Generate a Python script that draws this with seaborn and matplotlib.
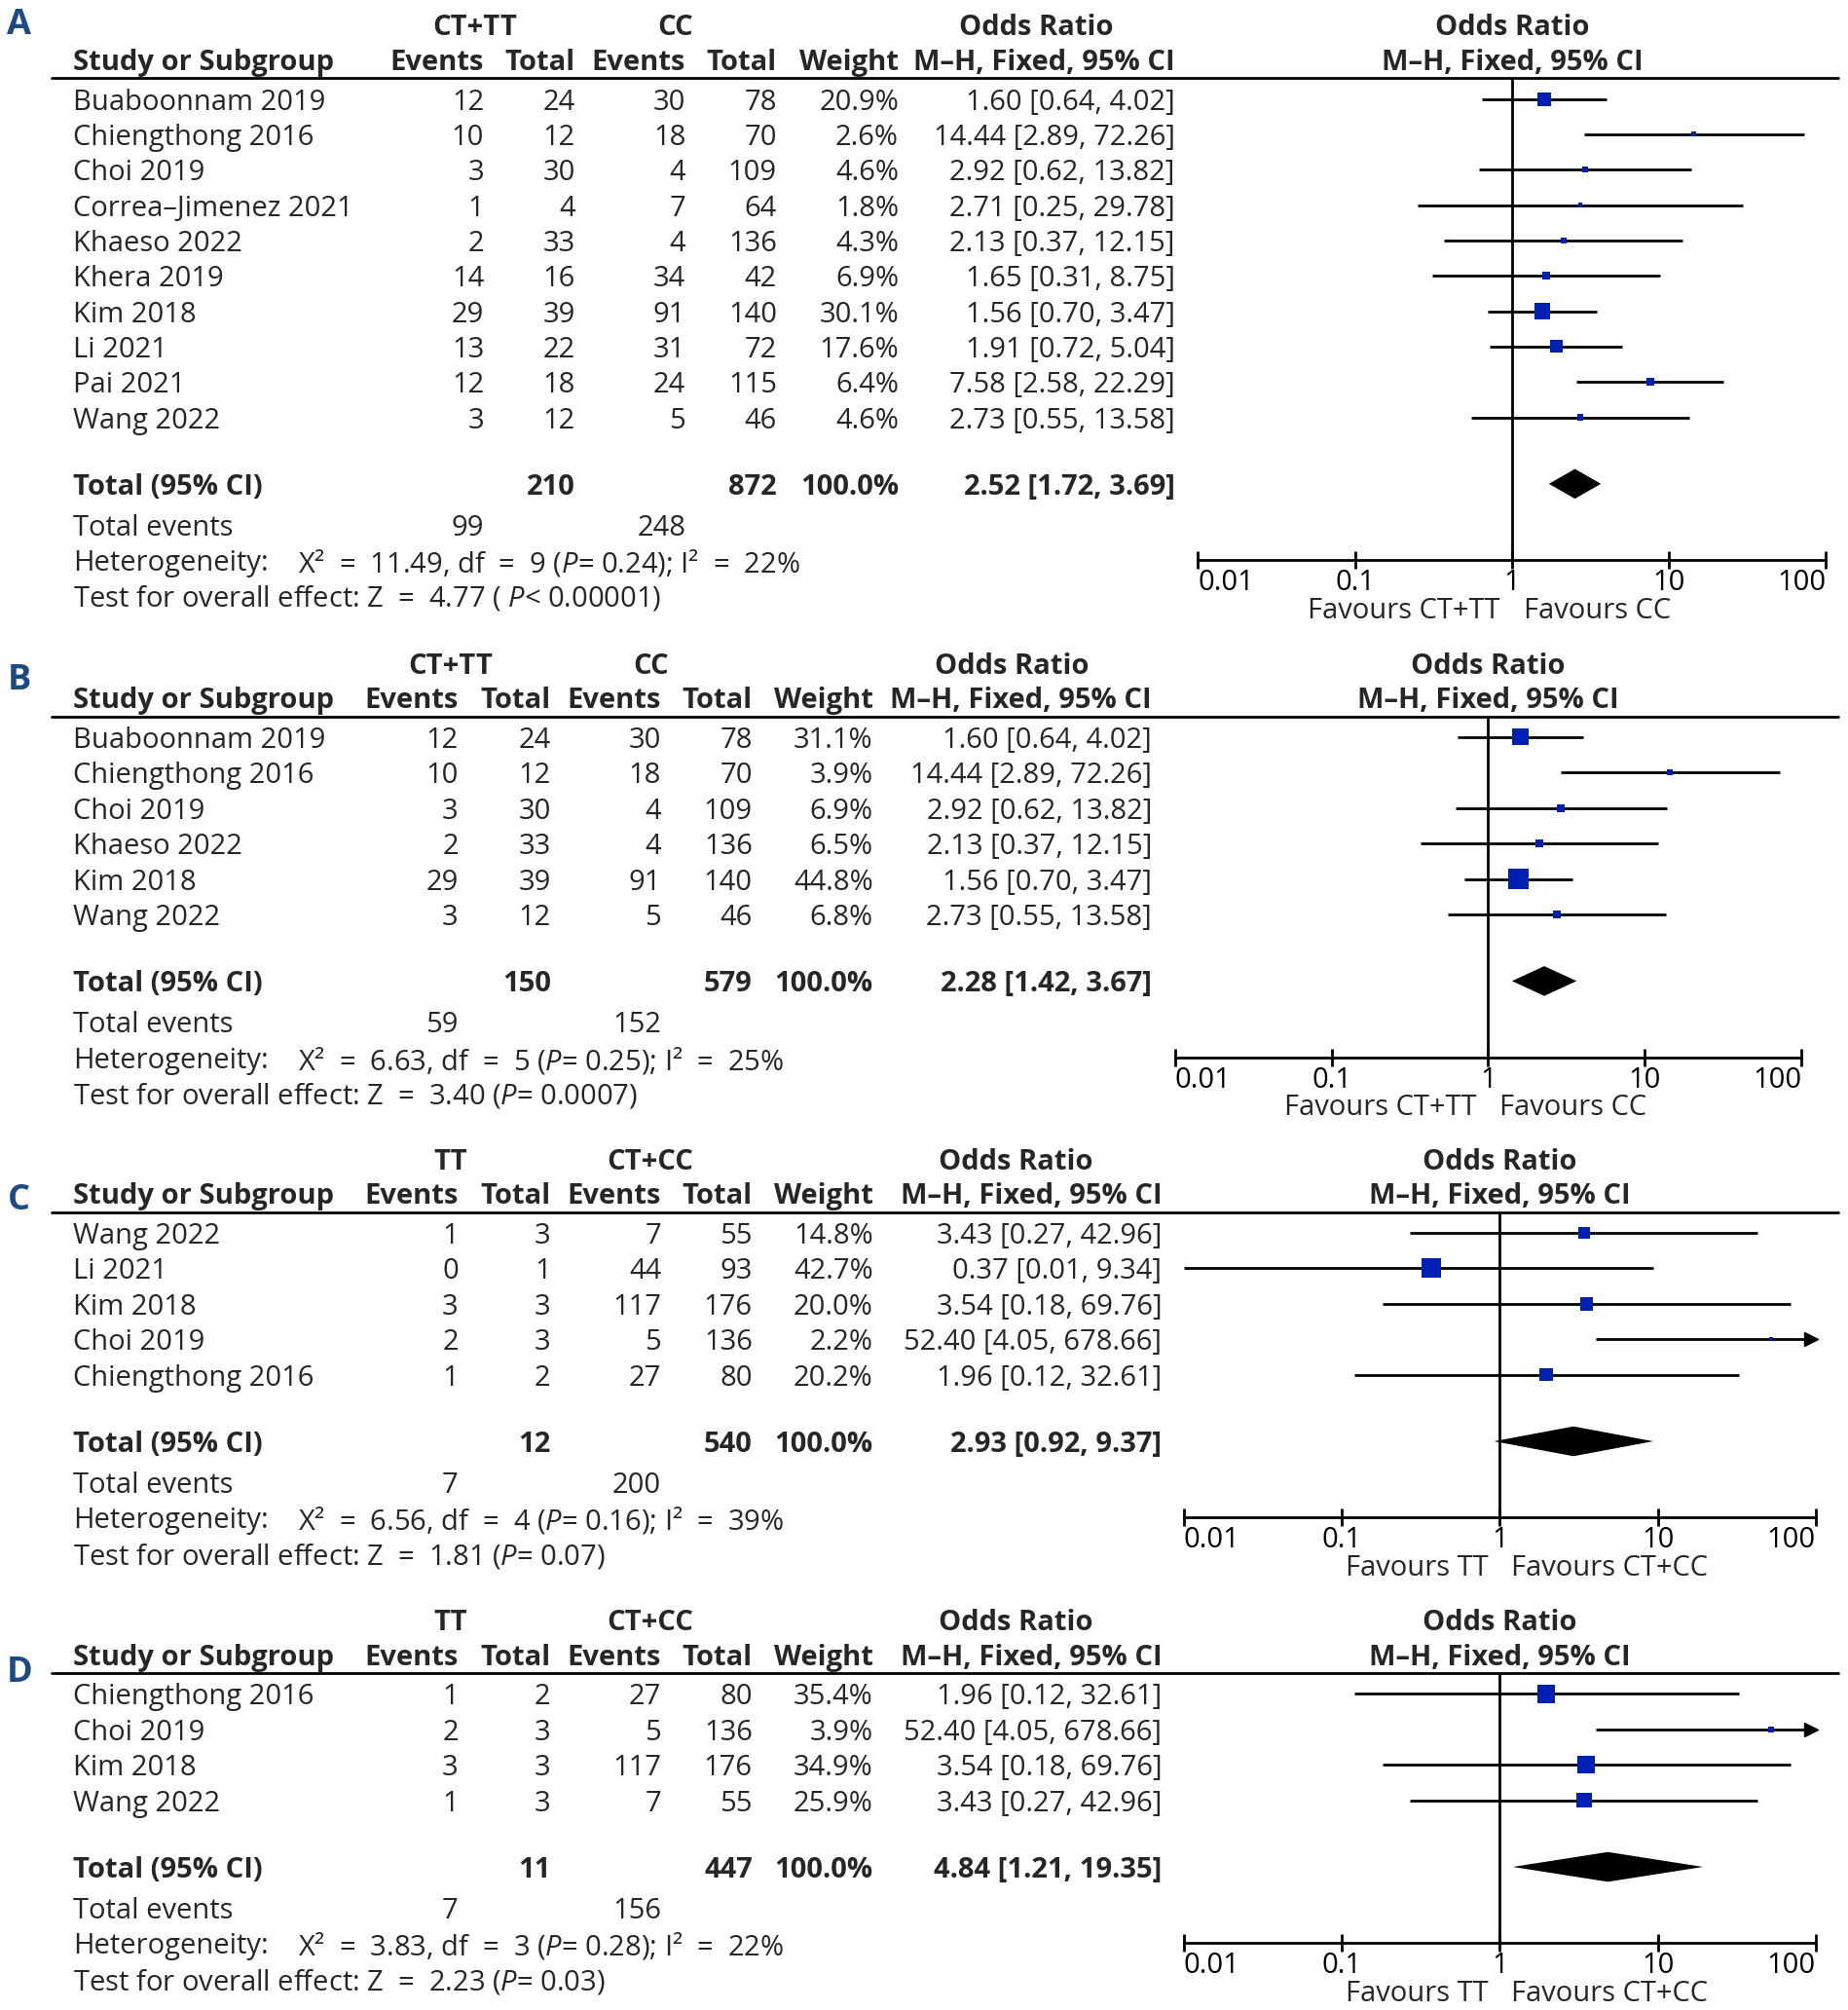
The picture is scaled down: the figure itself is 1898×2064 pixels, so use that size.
import numpy as np
import matplotlib
matplotlib.use("Agg")
import matplotlib.pyplot as plt
import matplotlib.transforms as mtrans
from matplotlib.ticker import NullLocator
import seaborn as sns

# ---- data -------------------------------------------------------------
A_STUDIES = ["Buaboonnam 2019", "Chiengthong 2016", "Choi 2019", "Correa–Jimenez 2021",
             "Khaeso 2022", "Khera 2019", "Kim 2018", "Li 2021", "Pai 2021", "Wang 2022"]
A_EV1 = [12, 10, 3, 1, 2, 14, 29, 13, 12, 3]
A_TOT1 = [24, 12, 30, 4, 33, 16, 39, 22, 18, 12]
A_EV2 = [30, 18, 4, 7, 4, 34, 91, 31, 24, 5]
A_TOT2 = [78, 70, 109, 64, 136, 42, 140, 72, 115, 46]
A_WEIGHT = [20.9, 2.6, 4.6, 1.8, 4.3, 6.9, 30.1, 17.6, 6.4, 4.6]
A_OR = [1.60, 14.44, 2.92, 2.71, 2.13, 1.65, 1.56, 1.91, 7.58, 2.73]
A_LO = [0.64, 2.89, 0.62, 0.25, 0.37, 0.31, 0.70, 0.72, 2.58, 0.55]
A_HI = [4.02, 72.26, 13.82, 29.78, 12.15, 8.75, 3.47, 5.04, 22.29, 13.58]
A_TOTAL = [210, 872, 2.52, 1.72, 3.69]
A_EVENTS = [99, 248]
A_HET = [11.49, 9, "0.24", 22]
A_TEST = [4.77, " ", "<", "0.00001"]

B_STUDIES = ["Buaboonnam 2019", "Chiengthong 2016", "Choi 2019", "Khaeso 2022", "Kim 2018", "Wang 2022"]
B_EV1 = [12, 10, 3, 2, 29, 3]
B_TOT1 = [24, 12, 30, 33, 39, 12]
B_EV2 = [30, 18, 4, 4, 91, 5]
B_TOT2 = [78, 70, 109, 136, 140, 46]
B_WEIGHT = [31.1, 3.9, 6.9, 6.5, 44.8, 6.8]
B_OR = [1.60, 14.44, 2.92, 2.13, 1.56, 2.73]
B_LO = [0.64, 2.89, 0.62, 0.37, 0.70, 0.55]
B_HI = [4.02, 72.26, 13.82, 12.15, 3.47, 13.58]
B_TOTAL = [150, 579, 2.28, 1.42, 3.67]
B_EVENTS = [59, 152]
B_HET = [6.63, 5, "0.25", 25]
B_TEST = [3.40, "", "=", "0.0007"]

C_STUDIES = ["Wang 2022", "Li 2021", "Kim 2018", "Choi 2019", "Chiengthong 2016"]
C_EV1 = [1, 0, 3, 2, 1]
C_TOT1 = [3, 1, 3, 3, 2]
C_EV2 = [7, 44, 117, 5, 27]
C_TOT2 = [55, 93, 176, 136, 80]
C_WEIGHT = [14.8, 42.7, 20.0, 2.2, 20.2]
C_OR = [3.43, 0.37, 3.54, 52.40, 1.96]
C_LO = [0.27, 0.01, 0.18, 4.05, 0.12]
C_HI = [42.96, 9.34, 69.76, 678.66, 32.61]
C_TOTAL = [12, 540, 2.93, 0.92, 9.37]
C_EVENTS = [7, 200]
C_HET = [6.56, 4, "0.16", 39]
C_TEST = [1.81, "", "=", "0.07"]

D_STUDIES = ["Chiengthong 2016", "Choi 2019", "Kim 2018", "Wang 2022"]
D_EV1 = [1, 2, 3, 1]
D_TOT1 = [2, 3, 3, 3]
D_EV2 = [27, 5, 117, 7]
D_TOT2 = [80, 136, 176, 55]
D_WEIGHT = [35.4, 3.9, 34.9, 25.9]
D_OR = [1.96, 52.40, 3.54, 3.43]
D_LO = [0.12, 4.05, 0.18, 0.27]
D_HI = [32.61, 678.66, 69.76, 42.96]
D_TOTAL = [11, 447, 4.84, 1.21, 19.35]
D_EVENTS = [7, 156]
D_HET = [3.83, 3, "0.28", 22]
D_TEST = [2.23, "", "=", "0.03"]

TICKS = [0.01, 0.1, 1, 10, 100]
TICK_LABELS = ["0.01", "0.1", "1", "10", "100"]

# ---- layout (pixel positions measured on a 1440 px wide copy) ----------
W_REF = 1440.0
H_REF = 2064 * 1440.0 / 1899
FS = 21
BLUE = "#0020b4"
LETTER_COLOR = "#1b4b82"

sns.set_theme(style="white")
plt.rcParams["font.family"] = ["Open Sans", "DejaVu Sans"]
plt.rcParams["mathtext.fontset"] = "custom"
plt.rcParams["mathtext.rm"] = "Open Sans"
plt.rcParams["mathtext.it"] = "Open Sans:italic"
plt.rcParams["mathtext.bf"] = "Open Sans:bold"
plt.rcParams["mathtext.fallback"] = "stixsans"

fig = plt.figure(figsize=(18.99, 20.64), dpi=100)


def fx(px):
    return px / W_REF


def fy(py):
    return 1 - py / H_REF


def wide(s):
    # the statistics lines of the reference set the "=" signs with extra room
    return s.replace(" = ", "  =  ")


def draw_panel(letter, lay, groups, fav, studies, ev1, tot1, ev2, tot2, weight,
               odds, lo, hi, total, events, het, test):
    row0, sp = lay["row0"], lay["sp"]
    n = len(studies)
    y_top = -0.58
    y_total = n - 1 + 1.88
    y_events = y_total + 1.15
    y_het = y_events + 1
    y_test = y_het + 1
    top_px = row0 + y_top * sp
    bot_px = row0 + y_het * sp

    ax = fig.add_axes([fx(lay["f_left"]), fy(bot_px),
                       fx(lay["f_right"]) - fx(lay["f_left"]), (bot_px - top_px) / H_REF])
    ax.set_xscale("log")
    ax.set_xlim(0.01, 100)
    ax.set_ylim(y_het, y_top)
    tr = mtrans.blended_transform_factory(fig.transFigure, ax.transData)

    # forest marks
    rows = np.arange(n)
    hi_clip = np.minimum(hi, 100)
    ax.hlines(rows, lo, hi_clip, color="black", lw=2.0, zorder=2)
    sns.scatterplot(x=odds, y=rows, size=weight, sizes=(0, 485), size_norm=(0, 100),
                    marker="s", color=BLUE, linewidth=0, legend=False, ax=ax, zorder=3)
    over = [r for r, h in zip(rows, hi) if h > 100]
    if over:
        arr_tr = mtrans.offset_copy(ax.transData, fig, x=-3.5, units="points")
        ax.plot([100] * len(over), over, marker=">", ms=10, color="black", ls="none",
                transform=arr_tr, clip_on=False, zorder=4)
    est, clo, chi = total[2], total[3], total[4]
    ax.fill([clo, est, chi, est], [y_total, y_total - 0.42, y_total, y_total + 0.42],
            color="black", lw=0, zorder=3)
    ax.axvline(1, color="black", lw=2.0, zorder=1)

    # axis
    for s in ["top", "left", "right"]:
        ax.spines[s].set_visible(False)
    ax.spines["bottom"].set_linewidth(2.0)
    ax.spines["bottom"].set_color("black")
    ax.set_xticks(TICKS)
    ax.set_xticklabels(TICK_LABELS)
    ax.xaxis.set_minor_locator(NullLocator())
    ax.set_yticks([])
    ax.tick_params(axis="x", direction="inout", length=13, width=2.0, labelsize=FS,
                   pad=0, bottom=True, colors="black")
    labs = ax.get_xticklabels()
    labs[0].set_horizontalalignment("left")
    labs[-1].set_horizontalalignment("right")
    mid = (lay["f_left"] + lay["f_right"]) / 2
    ax.text(fx(mid - 9), y_het + 1.34, "Favours " + fav[0], transform=tr, ha="right",
            va="center_baseline", fontsize=FS, clip_on=False)
    ax.text(fx(mid + 9), y_het + 1.34, "Favours " + fav[1], transform=tr, ha="left",
            va="center_baseline", fontsize=FS, clip_on=False)

    # header
    ax.plot([fx(40), fx(1432)], [y_top, y_top], transform=tr, color="black", lw=2.0,
            clip_on=False)
    c = lay["cols"]
    kw = dict(transform=tr, va="center_baseline", fontsize=FS, clip_on=False)
    bold = dict(kw, fontweight="bold")
    h1, h2 = -2.1, -1.12
    ax.text(fx(lay["g1"]), h1, groups[0], ha="center", **bold)
    ax.text(fx(lay["g2"]), h1, groups[1], ha="center", **bold)
    ax.text(fx(lay["orh"]), h1, "Odds Ratio", ha="center", **bold)
    ax.text(fx(mid), h1, "Odds Ratio", ha="center", **bold)
    ax.text(fx(57), h2, "Study or Subgroup", ha="left", **bold)
    for key, lab in zip(["ev1", "tot1", "ev2", "tot2", "w", "ci"],
                        ["Events", "Total", "Events", "Total", "Weight", "M–H, Fixed, 95% CI"]):
        ax.text(fx(c[key]), h2, lab, ha="right", **bold)
    ax.text(fx(mid), h2, "M–H, Fixed, 95% CI", ha="center", **bold)

    # study rows
    for i in range(n):
        ax.text(fx(57), i, studies[i], ha="left", **kw)
        vals = [str(ev1[i]), str(tot1[i]), str(ev2[i]), str(tot2[i]),
                f"{weight[i]:.1f}%", f"{odds[i]:.2f} [{lo[i]:.2f}, {hi[i]:.2f}]"]
        for key, v in zip(["ev1", "tot1", "ev2", "tot2", "w", "ci"], vals):
            ax.text(fx(c[key]), i, v, ha="right", **kw)

    # totals
    ax.text(fx(57), y_total, "Total (95% CI)", ha="left", **bold)
    ax.text(fx(c["tot1"]), y_total, str(total[0]), ha="right", **bold)
    ax.text(fx(c["tot2"]), y_total, str(total[1]), ha="right", **bold)
    ax.text(fx(c["w"]), y_total, "100.0%", ha="right", **bold)
    ax.text(fx(c["ci"]), y_total, f"{est:.2f} [{clo:.2f}, {chi:.2f}]", ha="right", **bold)
    ax.text(fx(57), y_events, "Total events", ha="left", **kw)
    ax.text(fx(c["ev1"]), y_events, str(events[0]), ha="right", **kw)
    ax.text(fx(c["ev2"]), y_events, str(events[1]), ha="right", **kw)
    ax.text(fx(57), y_het, "Heterogeneity:", ha="left", **kw)
    het_txt = wide(f"Χ² = {het[0]:.2f}, df = {het[1]} (") + r"$\mathit{P}$" + \
        f"= {het[2]}); " + wide(f"I² = {het[3]}%")
    ax.text(fx(232), y_het, het_txt, ha="left", **kw)
    test_txt = wide(f"Test for overall effect: Z = {test[0]:.2f} ({test[1]}") + \
        r"$\mathit{P}$" + f"{test[2]} {test[3]})"
    ax.text(fx(57), y_test, test_txt, ha="left", **kw)

    fig.text(fx(15), fy(lay["letter_y"]), letter, ha="center", va="center",
             fontsize=FS + 5, fontweight="bold", color=LETTER_COLOR)


COLS_A = dict(ev1=377, tot1=448, ev2=534, tot2=605, w=700, ci=915)
COLS_B = dict(ev1=357, tot1=429, ev2=515, tot2=586, w=680, ci=897)
COLS_C = dict(ev1=357, tot1=429, ev2=515, tot2=586, w=680, ci=905)

LAY_A = dict(row0=77, sp=27.55, cols=COLS_A, g1=370, g2=526, orh=807,
             f_left=933, f_right=1422, letter_y=20)
LAY_B = dict(row0=574, sp=27.6, cols=COLS_B, g1=351, g2=507, orh=788,
             f_left=915, f_right=1403, letter_y=530)
LAY_C = dict(row0=960, sp=27.6, cols=COLS_C, g1=351, g2=506, orh=791,
             f_left=922, f_right=1414, letter_y=935)
LAY_D = dict(row0=1319, sp=27.6, cols=COLS_C, g1=351, g2=506, orh=791,
             f_left=922, f_right=1414, letter_y=1303)

draw_panel("A", LAY_A, ["CT+TT", "CC"], ["CT+TT", "CC"], A_STUDIES, A_EV1, A_TOT1,
           A_EV2, A_TOT2, A_WEIGHT, A_OR, A_LO, A_HI, A_TOTAL, A_EVENTS, A_HET, A_TEST)
draw_panel("B", LAY_B, ["CT+TT", "CC"], ["CT+TT", "CC"], B_STUDIES, B_EV1, B_TOT1,
           B_EV2, B_TOT2, B_WEIGHT, B_OR, B_LO, B_HI, B_TOTAL, B_EVENTS, B_HET, B_TEST)
draw_panel("C", LAY_C, ["TT", "CT+CC"], ["TT", "CT+CC"], C_STUDIES, C_EV1, C_TOT1,
           C_EV2, C_TOT2, C_WEIGHT, C_OR, C_LO, C_HI, C_TOTAL, C_EVENTS, C_HET, C_TEST)
draw_panel("D", LAY_D, ["TT", "CT+CC"], ["TT", "CT+CC"], D_STUDIES, D_EV1, D_TOT1,
           D_EV2, D_TOT2, D_WEIGHT, D_OR, D_LO, D_HI, D_TOTAL, D_EVENTS, D_HET, D_TEST)

fig.savefig("out.png", dpi=100, facecolor="white")
